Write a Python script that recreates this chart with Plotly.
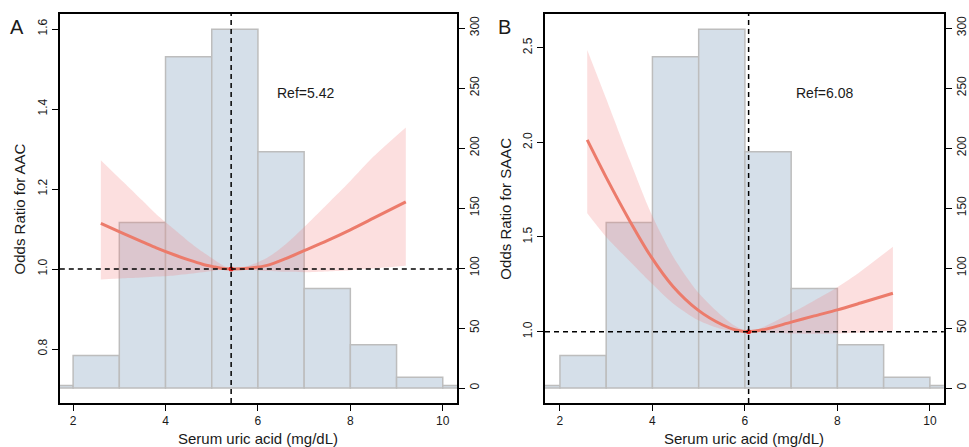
import plotly.graph_objects as go

W, H = 969, 447

# ---------------- data ----------------
bin_left = [1, 2, 3, 4, 5, 6, 7, 8, 9, 10]
bin_count = [2, 27, 138, 276, 299, 197, 83, 36, 9, 2]

# Panel A: AAC
ref_a = 5.42
x_a = [2.6, 3.08, 3.5, 3.8, 4.2, 4.52, 4.8, 5.03, 5.2, 5.42, 5.8, 6.2, 6.6, 7.0, 7.5, 8.0, 8.5, 9.2]
or_a = [1.114, 1.089, 1.068, 1.053, 1.035, 1.022, 1.012, 1.006, 1.002, 1.0, 1.002, 1.009, 1.026, 1.046, 1.071, 1.098, 1.127, 1.168]
hi_a = [1.272, 1.218, 1.171, 1.137, 1.098, 1.067, 1.043, 1.025, 1.012, 1.0, 1.008, 1.028, 1.062, 1.105, 1.162, 1.220, 1.281, 1.354]
lo_a = [0.974, 0.977, 0.979, 0.981, 0.984, 0.988, 0.992, 0.995, 0.998, 1.0, 0.998, 0.995, 0.993, 0.992, 0.994, 0.997, 1.001, 1.008]

# Panel B: SAAC
ref_b = 6.08
x_b = [2.59, 3.0, 3.51, 3.97, 4.44, 4.98, 5.52, 5.8, 6.08, 6.3, 6.5, 7.0, 7.5, 8.0, 8.5, 9.2]
or_b = [2.013, 1.815, 1.585, 1.396, 1.240, 1.115, 1.035, 1.009, 1.0, 1.006, 1.016, 1.050, 1.083, 1.115, 1.151, 1.203]
hi_b = [2.488, 2.230, 1.905, 1.625, 1.400, 1.210, 1.080, 1.028, 1.0, 1.015, 1.036, 1.098, 1.165, 1.235, 1.318, 1.449]
lo_b = [1.625, 1.500, 1.372, 1.258, 1.150, 1.062, 1.012, 1.002, 1.0, 0.997, 0.994, 0.990, 0.989, 0.990, 0.995, 1.005]

or_ticks_a = [0.8, 1.0, 1.2, 1.4, 1.6]
or_ticks_b = [1.0, 1.5, 2.0, 2.5]
count_ticks = [0, 50, 100, 150, 200, 250, 300]
x_ticks = [2, 4, 6, 8, 10]

# ---------------- styling ----------------
BAR_FILL = "#D5DFE9"
BAR_LINE = "#BDBDBD"
RIB = "rgba(242,120,120,0.24)"
LINE = "#EC7B6B"
FONT = "Liberation Sans, Arial, sans-serif"
TXT = "#1a1a1a"

fig = go.Figure()

def px_x(p):
    return p / W

def px_y(p):
    return 1 - p / H

panels = [
    dict(xa="x", yc="y", yo="y2", dom_x=(60, 458.5), xr=[1.712, 10.31], orr=[0.665, 1.6375],
         x=x_a, o=or_a, hi=hi_a, lo=lo_a, ref=ref_a, ortk=or_ticks_a, lab="A",
         title="Odds Ratio for AAC", reftxt="Ref=5.42", refy=1.44, refx=6.36, labx=17),
    dict(xa="x2", yc="y3", yo="y4", dom_x=(546.7, 946.7), xr=[1.677, 10.30], orr=[0.623, 2.678],
         x=x_b, o=or_b, hi=hi_b, lo=lo_b, ref=ref_b, ortk=or_ticks_b, lab="B",
         title="Odds Ratio for SAAC", reftxt="Ref=6.08", refy=2.26, refx=7.07, labx=506),
]

dom_y = (px_y(403), px_y(14))
annotations = []
shapes = []

for i, p in enumerate(panels):
    fig.add_trace(go.Bar(x=bin_left, y=bin_count, width=1, offset=0,
                         marker=dict(color=BAR_FILL, line=dict(color=BAR_LINE, width=1.5)),
                         xaxis=p["xa"], yaxis=p["yc"], showlegend=False, hoverinfo="skip"))
    fig.add_trace(go.Scatter(x=p["x"], y=p["hi"], mode="lines",
                             line=dict(width=0, shape="spline", smoothing=0.8),
                             xaxis=p["xa"], yaxis=p["yo"], showlegend=False, hoverinfo="skip"))
    fig.add_trace(go.Scatter(x=p["x"], y=p["lo"], mode="lines",
                             line=dict(width=0, shape="spline", smoothing=0.8),
                             fill="tonexty", fillcolor=RIB,
                             xaxis=p["xa"], yaxis=p["yo"], showlegend=False, hoverinfo="skip"))
    fig.add_trace(go.Scatter(x=p["x"], y=p["o"], mode="lines",
                             line=dict(width=3, color=LINE, shape="spline", smoothing=0.8),
                             xaxis=p["xa"], yaxis=p["yo"], showlegend=False))
    fig.add_trace(go.Scatter(x=[p["ref"]], y=[1.0], mode="markers", marker=dict(color="#E8251E", size=5),
                             xaxis=p["xa"], yaxis=p["yo"], showlegend=False))

    sfx = "" if i == 0 else "2"
    xname = "xaxis" + sfx
    ycname = "yaxis" + ("" if i == 0 else "3")
    yoname = "yaxis" + ("2" if i == 0 else "4")
    xref = p["xa"]
    common = dict(showgrid=False, zeroline=False, showline=True, linecolor="black", linewidth=1.8,
                  ticks="outside", ticklen=6, tickwidth=1.3, tickcolor="black",
                  tickfont=dict(family=FONT, size=12, color=TXT))
    fig.update_layout(**{
        xname: dict(domain=[px_x(p["dom_x"][0]), px_x(p["dom_x"][1])], range=p["xr"],
                    anchor=p["yc"], tickvals=x_ticks, mirror=True, **common),
        ycname: dict(domain=list(dom_y), range=[-12.5, 311.7], anchor=p["xa"], side="right",
                     tickvals=count_ticks, tickangle=-90, mirror=True, **common),
        yoname: dict(range=p["orr"], overlaying=p["yc"], anchor=p["xa"], side="left",
                     tickvals=p["ortk"], ticktext=["%.1f" % v for v in p["ortk"]],
                     tickangle=-90, **common),
    })
    shapes.append(dict(type="line", xref=xref + " domain", x0=0, x1=1, yref=p["yo"], y0=1, y1=1,
                       line=dict(color="black", width=1.5, dash="5px,4px"), layer="above"))
    shapes.append(dict(type="line", xref=xref, x0=p["ref"], x1=p["ref"], yref=p["yc"] + " domain", y0=0, y1=1,
                       line=dict(color="black", width=1.5, dash="5px,4px"), layer="above"))
    annotations.append(dict(text=p["reftxt"], x=p["refx"], y=p["refy"], xref=xref, yref=p["yo"],
                            xanchor="left", yanchor="middle", showarrow=False,
                            font=dict(family=FONT, size=14, color=TXT)))
    annotations.append(dict(text=p["lab"], x=px_x(p["labx"]), y=px_y(27), xref="paper", yref="paper",
                            xanchor="center", yanchor="middle", showarrow=False,
                            font=dict(family=FONT, size=20, color=TXT)))
    cx = (p["dom_x"][0] + p["dom_x"][1]) / 2
    annotations.append(dict(text="Serum uric acid (mg/dL)", x=px_x(cx), y=px_y(438), xref="paper", yref="paper",
                            xanchor="center", yanchor="middle", showarrow=False,
                            font=dict(family=FONT, size=15, color=TXT)))
    annotations.append(dict(text=p["title"], x=px_x(p["dom_x"][0] - 40), y=px_y(208.5), xref="paper", yref="paper",
                            xanchor="center", yanchor="middle", textangle=-90, showarrow=False,
                            font=dict(family=FONT, size=15, color=TXT)))

fig.update_layout(width=W, height=H, margin=dict(l=0, r=0, t=0, b=0),
                  paper_bgcolor="white", plot_bgcolor="white", barmode="overlay",
                  shapes=shapes, annotations=annotations, font=dict(family=FONT))

fig.write_html("out.html", config={"displayModeBar": False},
               post_script="document.body.style.margin='0';document.body.style.overflow='hidden';")
